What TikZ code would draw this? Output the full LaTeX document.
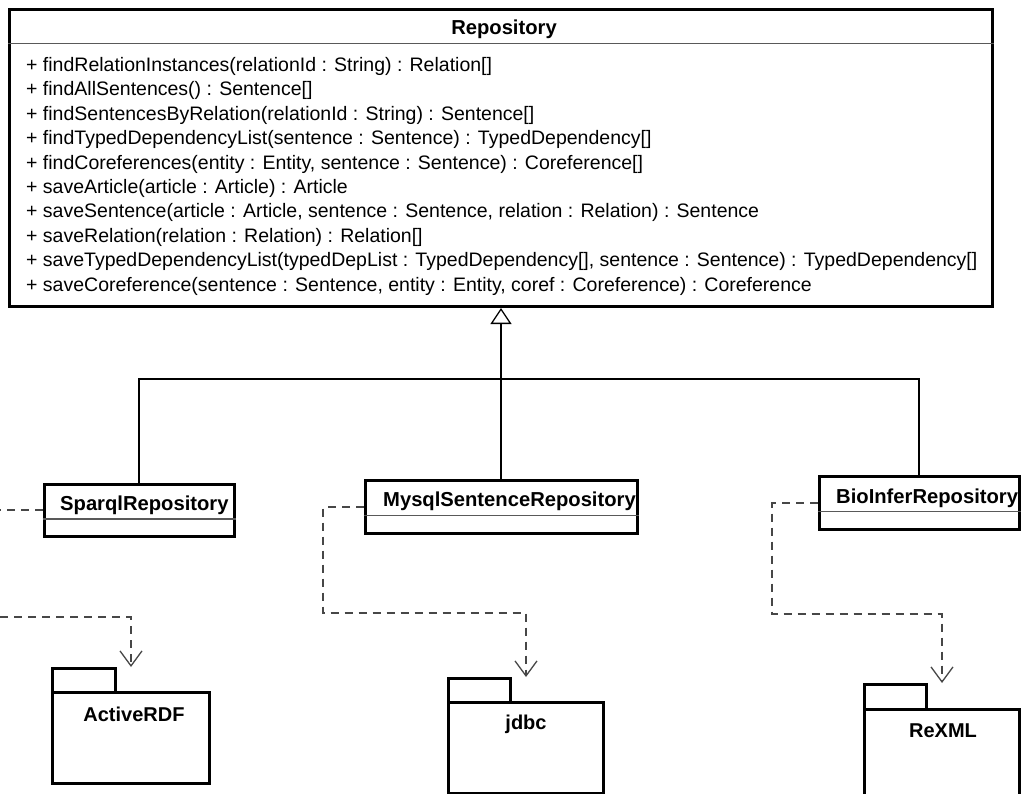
\documentclass[tikz,border=0pt]{standalone}
\usepackage{fontspec}
\setmainfont{Liberation Sans}
\usetikzlibrary{arrows.meta,calc}

\begin{document}
\begin{tikzpicture}[x=1pt,y=-1pt,
  box/.style={draw=black, line width=3pt, fill=white, inner sep=0pt, rectangle},
  sepline/.style={draw=black!65, line width=1.2pt},
  gen/.style={draw=black, line width=1.5pt},
  deppath/.style={draw=black!72, line width=1.5pt, dash pattern=on 8pt off 6pt},
  dep/.style={deppath, -{Straight Barb[length=15pt,width=22pt,line width=1.3pt]}},
  classname/.style={font=\bfseries\fontsize{20.2}{23}\selectfont, inner sep=0pt},
  pkgname/.style={font=\bfseries\fontsize{20}{23}\selectfont, inner sep=0pt},
  op/.style={font=\fontsize{19.5}{22}\selectfont, inner sep=0pt}]
\useasboundingbox (0,0) rectangle (1022,794);
\clip (0,0) rectangle (1022,794);
\fill[white] (0,0) rectangle (1022,794);

% Repository interface
\node[box, minimum width=983, minimum height=297] (repo) at (501,158) {};
\draw[sepline] ([yshift=-35.5pt]repo.north west) -- ([yshift=-35.5pt]repo.north east);
\node[classname, anchor=base] (reponame) at (504,35) {Repository};
\foreach \t [count=\i] in {
  {+ findRelationInstances(relationId : String) : Relation[]},
  {+ findAllSentences() : Sentence[]},
  {+ findSentencesByRelation(relationId : String) : Sentence[]},
  {+ findTypedDependencyList(sentence : Sentence) : TypedDependency[]},
  {+ findCoreferences(entity : Entity, sentence : Sentence) : Coreference[]},
  {+ saveArticle(article : Article) : Article},
  {+ saveSentence(article : Article, sentence : Sentence, relation : Relation) : Sentence},
  {+ saveRelation(relation : Relation) : Relation[]},
  {+ saveTypedDependencyList(typedDepList : TypedDependency[], sentence : Sentence) : TypedDependency[]},
  {+ saveCoreference(sentence : Sentence, entity : Entity, coref : Coreference) : Coreference}}
  \node[op, anchor=base west] (op\i) at (26,{71.5+24.4*(\i-1)}) {\t};

% Implementing classes
\node[box, minimum width=190, minimum height=52] (sparql) at (139,510) {};
\draw[sepline] ([yshift=-36.5pt]sparql.north west) -- ([yshift=-36.5pt]sparql.north east);
\node[classname, anchor=base west] (sparqlname) at (60,510) {SparqlRepository};

\node[box, minimum width=272, minimum height=53] (mysql) at (501,507) {};
\draw[sepline] ([yshift=-36.5pt]mysql.north west) -- ([yshift=-36.5pt]mysql.north east);
\node[classname, anchor=base west] (mysqlname) at (383,506) {MysqlSentenceRepository};

\node[box, minimum width=200, minimum height=53] (bio) at (919,503) {};
\draw[sepline] ([yshift=-36.5pt]bio.north west) -- ([yshift=-36.5pt]bio.north east);
\node[classname, anchor=base west] (bioname) at (836,503) {BioInferRepository};

% Generalization
\coordinate (junction) at (501,379);
\draw[gen] (sparql.north) |- (junction);
\draw[gen] (bio.north) |- (junction);
\draw[gen] (mysql.north) -- (junction);
\draw[gen, -{Triangle[length=16pt,width=21pt,line width=1.3pt,fill=white]}] (junction) -- (repo.south);

% Packages
\node[box, minimum width=63, minimum height=24, anchor=north west] (acttab) at (51,667) {};
\node[box, minimum width=157, minimum height=91, anchor=north west] (act) at (51,691) {};
\node[pkgname, anchor=base] (actname) at ([xshift=3pt,yshift=-30pt]act.north) {ActiveRDF};

\node[box, minimum width=62, minimum height=24, anchor=north west] (jdbctab) at (447,677) {};
\node[box, minimum width=155, minimum height=91, anchor=north west] (jdbc) at (447,701) {};
\node[pkgname, anchor=base] (jdbcname) at ([yshift=-28pt]jdbc.north) {jdbc};

\node[box, minimum width=62, minimum height=25, anchor=north west] (rexmltab) at (863,683) {};
\node[box, minimum width=155, minimum height=91, anchor=north west] (rexml) at (863,708) {};
\node[pkgname, anchor=base] (rexmlname) at ([xshift=1pt,yshift=-29pt]rexml.north) {ReXML};

% Dependencies
\coordinate (leftA) at (0,510);
\coordinate (leftB) at (0,617);
\draw[deppath] (sparql.west) -- (leftA);
\draw[dep] (leftB) -| ([xshift=14pt]acttab.north east);
\draw[dep] (mysql.west) -| (323,613) -| ([xshift=14pt]jdbctab.north east);
\draw[dep] (bio.west) -| (772,614) -| ([xshift=14pt]rexmltab.north east);
\end{tikzpicture}
\end{document}
